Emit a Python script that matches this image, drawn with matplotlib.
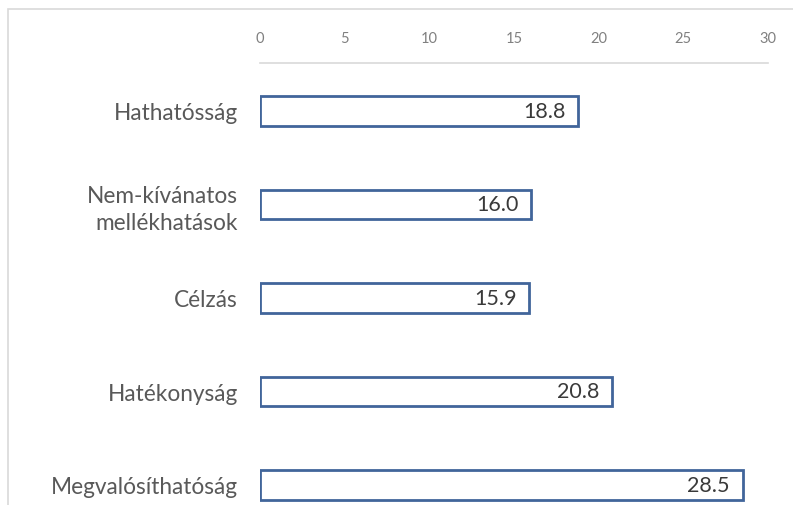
import matplotlib.pyplot as plt
from matplotlib.patches import Rectangle

categories = ["Hathatósság", "Nem-kívánatos\nmellékhatások", "Célzás",
              "Hatékonyság", "Megvalósíthatóság"]
values = [18.8, 16.0, 15.9, 20.8, 28.5]
ticks = [0, 5, 10, 15, 20, 25, 30]

W, H = 793, 506
fig = plt.figure(figsize=(W / 100, H / 100), dpi=100)
plt.rcParams['font.family'] = ['Lato', 'DejaVu Sans']

# outer chart frame (light gray), only top and left edges show
fig.patches.append(Rectangle((8 / W, -0.1), 1.2, 1.1 - 10 / H, transform=fig.transFigure,
                             fill=False, edgecolor="#d9d9d9", linewidth=1.2))

ax = fig.add_axes([260 / W, 0, (768 - 260) / W, 1 - 64 / H])
y = list(range(len(categories)))
ax.barh(y, values, height=0.32, color="white", edgecolor="#41659a", linewidth=2)

for yi, v in zip(y, values):
    ax.text(v - 0.75, yi, f"{v:.1f}", ha="right", va="center",
            fontsize=15.5, color="#3a3a3a")

ax.set_xlim(0, 30)
ax.set_ylim(4.214, -0.513)
ax.xaxis.tick_top()
ax.set_xticks(ticks)
ax.set_xticklabels([str(t) for t in ticks], fontsize=10.5, color="#808080")
ax.tick_params(axis="x", length=0, pad=13)
ax.set_yticks(y)
ax.set_yticklabels(categories, fontsize=16.3, color="#595959", linespacing=1.35)
ax.tick_params(axis="y", length=0, pad=16)

for s in ["right", "bottom", "left"]:
    ax.spines[s].set_visible(False)
ax.spines["top"].set_color("#d9d9d9")
ax.spines["top"].set_linewidth(1.2)

fig.savefig("out.png", dpi=100)
